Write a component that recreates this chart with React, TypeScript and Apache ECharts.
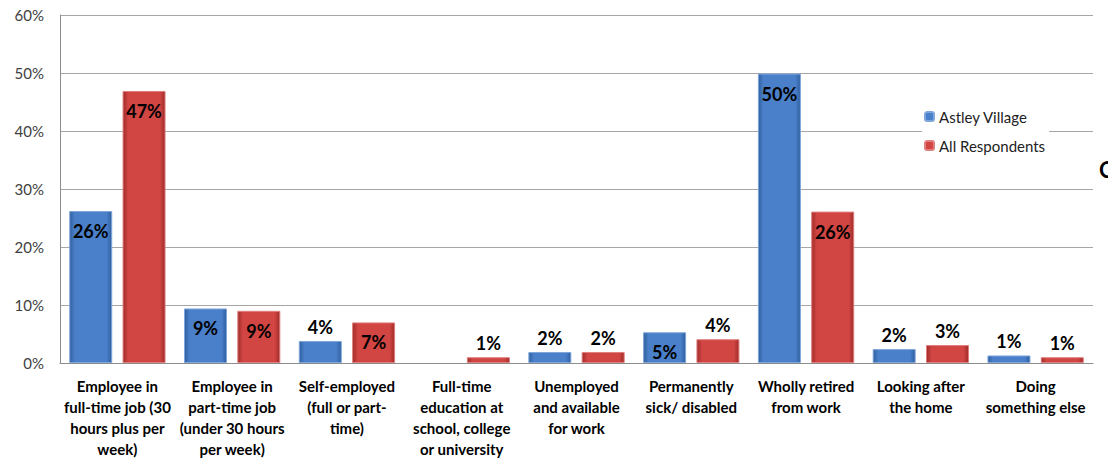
import React, { useEffect, useRef } from "react";
import * as echarts from "echarts";

const categories = [
  "Employee in\nfull-time job (30\nhours plus per\nweek)",
  "Employee in\npart-time job\n(under 30 hours\nper week)",
  "Self-employed\n(full or part-\ntime)",
  "Full-time\neducation at\nschool, college\nor university",
  "Unemployed\nand available\nfor work",
  "Permanently\nsick/ disabled",
  "Wholly retired\nfrom work",
  "Looking after\nthe home",
  "Doing\nsomething else",
];
const astleyValues = [26.2, 9.4, 3.8, 0, 1.9, 5.3, 49.9, 2.4, 1.3];
const astleyLabels = ["26%", "9%", "4%", "", "2%", "5%", "50%", "2%", "1%"];
const allValues = [46.9, 9.0, 7.0, 1.0, 1.9, 4.1, 26.1, 3.1, 1.0];
const allLabels = ["47%", "9%", "7%", "1%", "2%", "4%", "26%", "3%", "1%"];
const yTicks = [0, 10, 20, 30, 40, 50, 60];

const FONT = "Lato, 'Open Sans', sans-serif";

function barGrad(dark: string, light: string) {
  return new echarts.graphic.LinearGradient(0, 0, 1, 0, [
    { offset: 0, color: dark },
    { offset: 0.12, color: light },
    { offset: 0.88, color: light },
    { offset: 1, color: dark },
  ]);
}

function buildData(values: number[], labels: string[]) {
  return values.map((v, i) => {
    const inside = v >= 5;
    return {
      value: v === 0 ? "-" : v,
      label: {
        show: labels[i] !== "",
        formatter: labels[i],
        position: inside ? "insideTop" : "top",
        distance: inside ? 11 : 5,
      },
    };
  });
}

export default function App() {
  const ref = useRef<HTMLDivElement>(null);
  useEffect(() => {
    if (!ref.current) return;
    const chart = echarts.init(ref.current, null, { renderer: "svg" });
    const labelStyle = {
      color: "#000",
      fontWeight: "bold" as const,
      fontSize: 18,
      fontFamily: FONT,
    };
    chart.setOption({
      animation: false,
      textStyle: { fontFamily: FONT },
      grid: { left: 60, right: 15, top: 15, bottom: 92, containLabel: false },
      legend: {
        orient: "vertical",
        left: 922,
        top: 107,
        itemWidth: 9,
        itemHeight: 9,
        itemGap: 14,
        backgroundColor: "#fff",
        padding: [2, 4, 2, 2],
        textStyle: { fontSize: 15, color: "#222", fontFamily: FONT },
        data: ["Astley Village", "All Respondents"],
      },
      xAxis: {
        type: "category",
        data: categories,
        axisLine: { lineStyle: { color: "#8c8c8c" } },
        axisTick: { show: false },
        axisLabel: {
          interval: 0,
          color: "#000",
          fontWeight: "bold",
          fontSize: 15,
          lineHeight: 21,
          margin: 12,
          fontFamily: FONT,
        },
      },
      yAxis: {
        type: "value",
        min: 0,
        max: 60,
        interval: 10,
        axisLine: { show: true, lineStyle: { color: "#8c8c8c" } },
        axisTick: { show: false },
        splitLine: { lineStyle: { color: "#a6a6a6" } },
        axisLabel: {
          color: "#404040",
          fontSize: 15,
          margin: 16,
          fontFamily: FONT,
          formatter: (v: number) => (yTicks.includes(v) ? v + "%" : ""),
        },
      },
      series: [
        {
          name: "Astley Village",
          type: "bar",
          barWidth: 43,
          barGap: "24%",
          data: buildData(astleyValues, astleyLabels),
          itemStyle: {
            color: barGrad("#2f5f9e", "#4a7fc9"),
            borderColor: "#7fa6dc",
            borderWidth: 1,
          },
          label: labelStyle,
        },
        {
          name: "All Respondents",
          type: "bar",
          barWidth: 43,
          data: buildData(allValues, allLabels),
          itemStyle: {
            color: barGrad("#9e2c2a", "#d14543"),
            borderColor: "#e07f7d",
            borderWidth: 1,
          },
          label: labelStyle,
        },
      ],
      graphic: [
        {
          type: "text",
          left: 1099,
          top: 158,
          style: {
            text: "C",
            font: "bold 22px " + FONT,
            fill: "#000",
          },
        },
      ],
    });
    return () => chart.dispose();
  }, []);
  return (
    <div
      ref={ref}
      style={{ position: "fixed", left: 0, top: 0, width: 1108, height: 459, background: "#fff" }}
    />
  );
}
